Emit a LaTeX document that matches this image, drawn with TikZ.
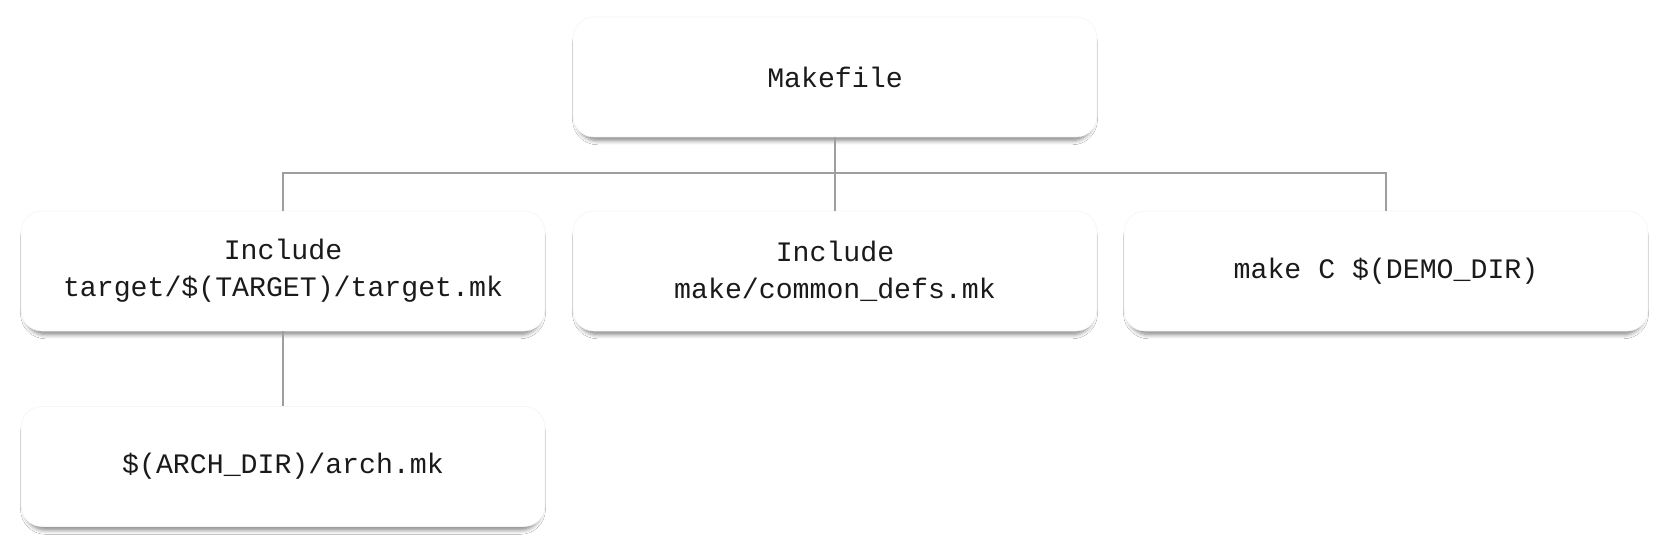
\documentclass[tikz,border=0pt]{standalone}
\usepackage{fontspec}
\setmonofont{Liberation Mono}
\usetikzlibrary{shadows.blur}
\definecolor{linegray}{HTML}{9E9E9E}
\definecolor{txt}{HTML}{1A1A1A}
\tikzset{
  box/.style={draw=black!4, line width=0.3pt, fill=white, rounded corners=10.5pt,
    minimum width=262pt, minimum height=60pt, inner sep=0pt, align=center,
    font=\ttfamily\fontsize{14.1}{18.7}\selectfont, text=txt,
    blur shadow={shadow xshift=0pt, shadow yshift=-2.2pt, shadow scale=0.985, shadow blur radius=2.2pt, shadow blur steps=6, shadow opacity=50}},
  conn/.style={draw=linegray, line width=1pt}
}
\begin{document}
\begin{tikzpicture}[x=0.5pt, y=-0.5pt]
\useasboundingbox[fill=white] (0,0) rectangle (1666,540);
\node[box] (mk) at (835,77) {Makefile};
\node[box] (tg) at (283,271) {Include\\target/\$(TARGET)/target.mk};
\node[box] (cd) at (835,271) {Include\\make/common\_defs.mk};
\node[box] (dm) at (1386,271) {make C \$(DEMO\_DIR)};
\node[box] (ar) at (283,466.5) {\$(ARCH\_DIR)/arch.mk};
\coordinate (hb) at (835,173);
\draw[conn] (mk.south) -- (cd.north);
\draw[conn] (tg.north) |- (hb) -| (dm.north);
\draw[conn] (tg.south) -- (ar.north);
\end{tikzpicture}
\end{document}
